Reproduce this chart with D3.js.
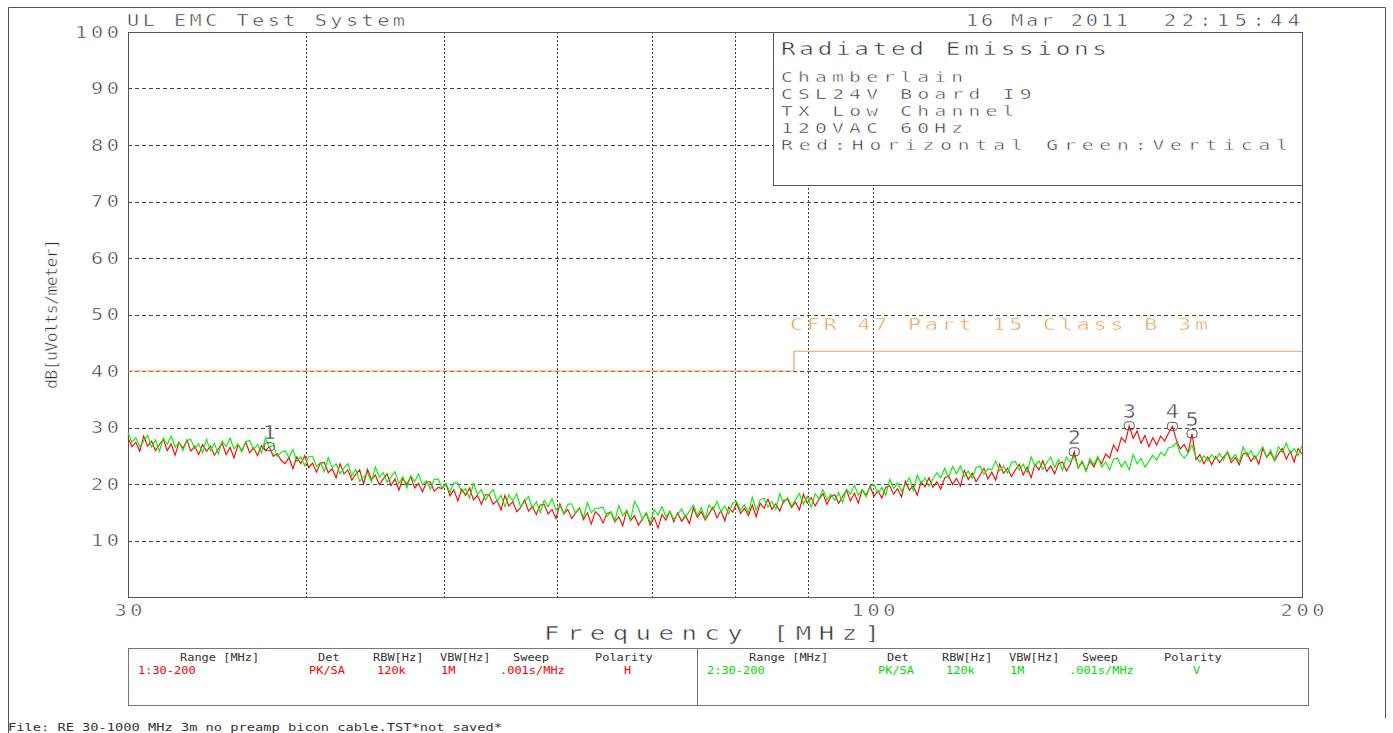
<!DOCTYPE html>
<html>
<head>
<meta charset="utf-8">
<script src="https://cdn.jsdelivr.net/npm/d3@7"></script>
<style>
  html, body { margin: 0; padding: 0; background: #fff; }
  svg { display: block; }
  text { font-family: "DejaVu Sans Mono", "Liberation Mono", monospace; }
  text.thin { stroke: #fff; stroke-width: 0.45px; }
</style>
</head>
<body>
<svg id="chart" width="1393" height="733"></svg>
<script>
// Sweep settings (MHz)
const sweepStart = 30;
const sweepStop = 200;

// Horizontal polarity peak trace, dBuV/m
const hLevels = [
  28.2, 26.6, 27.4, 25.8, 28.5, 26.7, 27.6, 25.9, 27.0, 27.9, 25.9, 27.1, 25.1, 27.4, 26.3, 27.8, 25.8, 26.7, 25.2, 27.0,
  25.8, 26.7, 25.1, 26.2, 27.2, 25.2, 26.5, 24.6, 26.9, 25.9, 27.4, 25.5, 26.4, 25.0, 26.8, 25.9, 26.6, 24.9, 25.4, 24.2,
  23.6, 24.7, 22.7, 24.8, 23.6, 25.0, 22.9, 23.7, 22.1, 23.7, 23.8, 22.0, 22.7, 21.1, 23.6, 21.8, 22.5, 20.7, 21.7, 22.5,
  20.0, 22.6, 20.8, 21.6, 19.9, 20.9, 21.8, 19.7, 20.9, 18.9, 21.0, 19.9, 21.3, 19.3, 20.1, 18.6, 20.3, 20.4, 18.7, 19.4,
  19.2, 20.0, 17.9, 19.0, 17.0, 19.1, 18.0, 19.3, 17.2, 18.0, 16.4, 18.1, 18.1, 16.4, 17.1, 15.4, 18.0, 16.1, 16.9, 15.1,
  15.8, 17.2, 15.2, 16.0, 14.6, 16.3, 16.4, 14.7, 15.5, 13.9, 16.5, 14.7, 15.5, 13.9, 14.9, 15.8, 13.7, 14.9, 12.9, 15.1,
  14.5, 13.1, 14.8, 15.0, 13.3, 14.2, 12.6, 15.3, 13.5, 14.4, 12.7, 13.8, 14.8, 12.7, 14.1, 12.2, 14.6, 13.6, 15.2, 13.3,
  14.9, 13.4, 14.4, 13.0, 15.8, 14.1, 15.1, 13.6, 14.8, 15.9, 14.0, 15.3, 13.5, 15.9, 15.0, 16.6, 14.8, 15.7, 14.4, 16.3,
  14.2, 16.6, 15.7, 17.3, 15.5, 16.5, 15.2, 17.1, 17.3, 15.8, 16.8, 15.4, 18.2, 16.6, 17.6, 16.1, 17.3, 18.3, 16.4, 17.8,
  18.1, 16.6, 17.8, 18.9, 17.0, 18.4, 16.6, 19.0, 18.0, 19.6, 17.8, 18.8, 17.5, 19.4, 19.7, 18.2, 19.2, 17.7, 20.5, 18.9,
  19.7, 18.0, 20.4, 19.5, 21.1, 19.4, 20.4, 19.1, 21.1, 21.4, 19.9, 21.0, 19.6, 22.4, 20.8, 21.9, 20.4, 21.6, 22.8, 20.9,
  22.1, 20.7, 23.5, 21.9, 22.8, 21.3, 22.5, 23.5, 21.6, 23.0, 21.1, 23.5, 22.5, 24.1, 22.2, 23.2, 21.8, 23.6, 23.9, 22.3,
  23.5, 25.7, 22.8, 23.9, 22.4, 24.1, 23.0, 24.6, 23.6, 25.3, 24.6, 26.9, 25.8, 28.2, 27.4, 30.3, 28.1, 29.4, 27.2, 28.6,
  26.6, 28.2, 26.9, 28.5, 27.6, 29.0, 30.2, 27.8, 26.2, 27.0, 25.6, 28.9, 24.3, 25.2, 23.6, 24.8, 23.4, 24.9, 23.8, 24.7,
  25.6, 23.8, 24.7, 23.4, 25.3, 25.5, 24.0, 25.0, 23.5, 26.3, 24.7, 25.6, 24.1, 25.3, 26.3, 24.4, 25.8, 23.9, 26.3, 25.3
];

// Vertical polarity peak trace, dBuV/m
const vLevels = [
  29.1, 27.4, 28.2, 26.6, 27.6, 28.6, 26.5, 27.8, 25.8, 28.1, 27.0, 28.5, 26.5, 27.4, 25.9, 27.7, 27.9, 26.2, 27.1, 25.5,
  27.9, 25.9, 27.2, 25.3, 27.6, 26.6, 28.1, 26.2, 27.1, 25.7, 27.5, 27.7, 26.1, 27.0, 25.5, 28.2, 26.5, 26.9, 24.9, 25.6,
  25.9, 24.7, 26.1, 24.0, 24.8, 23.2, 24.8, 24.9, 23.1, 23.8, 22.2, 24.7, 22.9, 23.6, 21.8, 22.8, 23.6, 21.4, 22.6, 20.5,
  21.2, 22.0, 20.4, 23.0, 21.2, 22.0, 20.3, 21.3, 22.2, 20.1, 21.3, 19.3, 21.5, 20.4, 21.8, 19.8, 20.6, 19.1, 20.8, 20.9,
  19.3, 20.1, 18.5, 20.2, 20.2, 18.5, 19.2, 17.5, 20.1, 18.2, 19.0, 17.2, 18.2, 19.0, 16.9, 18.0, 16.0, 18.1, 17.0, 18.3,
  15.9, 16.9, 17.8, 15.7, 16.9, 14.9, 17.1, 16.0, 17.4, 15.4, 16.2, 14.7, 16.4, 16.5, 14.8, 15.7, 14.1, 16.7, 14.9, 15.7,
  15.7, 15.9, 14.2, 15.1, 13.5, 16.2, 14.4, 15.3, 13.7, 16.9, 15.7, 13.7, 15.0, 13.1, 15.5, 14.5, 16.0, 14.2, 15.1, 13.8,
  14.6, 15.6, 14.1, 15.2, 16.3, 14.4, 15.8, 13.9, 16.3, 15.4, 16.9, 15.1, 16.1, 14.7, 16.6, 16.9, 15.4, 16.3, 14.9, 17.7,
  15.3, 17.2, 17.5, 15.9, 16.9, 15.5, 18.3, 16.6, 17.6, 16.1, 17.2, 18.3, 16.4, 17.8, 15.9, 18.3, 17.4, 19.0, 17.2, 18.2,
  17.1, 18.5, 16.7, 19.1, 18.2, 19.8, 18.0, 19.0, 17.7, 19.6, 19.9, 18.4, 19.4, 18.0, 20.8, 19.2, 20.2, 18.7, 19.9, 21.1,
  18.8, 21.6, 20.1, 21.1, 19.6, 20.9, 22.0, 21.1, 22.8, 21.1, 23.1, 21.8, 23.2, 21.3, 22.3, 21.0, 22.9, 23.2, 21.7, 22.7,
  22.5, 24.1, 22.3, 23.2, 21.9, 23.8, 24.0, 22.5, 23.5, 22.0, 24.8, 23.2, 24.1, 22.6, 23.8, 24.8, 22.9, 24.3, 22.4, 24.8,
  23.9, 24.9, 22.9, 24.1, 22.2, 24.5, 23.4, 24.9, 23.0, 23.9, 22.5, 24.4, 24.6, 23.0, 24.0, 22.5, 25.2, 23.6, 24.5, 23.0,
  24.0, 25.1, 24.2, 25.6, 25.0, 26.4, 26.6, 27.3, 25.4, 24.6, 25.5, 26.9, 24.8, 23.9, 25.0, 24.1, 25.2, 24.4, 25.4, 24.2,
  25.8, 24.3, 25.2, 23.8, 26.6, 24.9, 25.9, 24.4, 25.5, 26.6, 24.7, 26.0, 24.2, 26.6, 25.6, 27.2, 25.4, 26.3, 25.0, 26.8
];

// FCC Part 15 Class B limit at 3 m
const limitFreqs = [30, 88, 88, 200];
const limitLevels = [40, 40, 43.5, 43.5];

// Peak markers: sample index on the horizontal trace
const markerIndex = [36, 241, 255, 266, 271];
const markerNames = ["1", "2", "3", "4", "5"];

// Axis ticks and grid
const yTicks = [10, 20, 30, 40, 50, 60, 70, 80, 90, 100];
const yGrid = [10, 20, 30, 40, 50, 60, 70, 80, 90];
const xTicks = [30, 100, 200];
const xGrid = [40, 50, 60, 70, 80, 90, 100];

const infoLines = ["Chamberlain", "CSL24V Board I9", "TX Low Channel", "120VAC 60Hz", "Red:Horizontal  Green:Vertical"];
const tableHeads = ["Range [MHz]", "Det", "RBW[Hz]", "VBW[Hz]", "Sweep", "Polarity"];
const hSetup = ["1:30-200", "PK/SA", "120k", "1M", ".001s/MHz", "H"];
const vSetup = ["2:30-200", "PK/SA", "120k", "1M", ".001s/MHz", "V"];

const ink = "#333";
const wide = 1.35; // horizontal stretch of the plotter lettering
const svg = d3.select("#chart");

// log-spaced sweep frequencies shared by both traces
const sweepFreqs = hLevels.map((_, i) => sweepStart * Math.pow(sweepStop / sweepStart, i / (hLevels.length - 1)));

const plot = { left: 128, right: 1302, top: 32, bottom: 597 };
const x = d3.scaleLog().domain([sweepStart, sweepStop]).range([plot.left, plot.right]);
const y = d3.scaleLinear().domain([0, 100]).range([plot.bottom, plot.top]);

// plotter-style label: wide monospace glyphs spread to a fixed run length
function txt(g, s, px, py, size, width, opts = {}) {
  const sx = opts.sx || wide;
  const rot = opts.rotate ? ` rotate(${opts.rotate})` : "";
  const t = g.append("text")
    .attr("transform", `translate(${px},${py})${rot} scale(${sx},1)`)
    .attr("font-size", size)
    .attr("fill", opts.fill || ink)
    .attr("text-anchor", opts.anchor || "start")
    .attr("class", opts.cls || "thin")
    .text(s);
  if (opts.family) t.attr("font-family", opts.family);
  if (width) t.attr("textLength", width / sx).attr("lengthAdjust", opts.adjust || "spacing");
  return t;
}

// page frame
svg.append("path")
  .attr("d", "M8.5,733 V7.5 H1385.5 V718")
  .attr("fill", "none").attr("stroke", "#555").attr("stroke-width", 1);

// grid
svg.append("g").selectAll("line").data(yGrid).join("line")
  .attr("x1", plot.left).attr("x2", plot.right)
  .attr("y1", d => Math.round(y(d)) + 0.5).attr("y2", d => Math.round(y(d)) + 0.5)
  .attr("stroke", "#444").attr("stroke-dasharray", "4,3");
svg.append("g").selectAll("line").data(xGrid).join("line")
  .attr("x1", d => Math.round(x(d)) + 0.5).attr("x2", d => Math.round(x(d)) + 0.5)
  .attr("y1", plot.top).attr("y2", plot.bottom)
  .attr("stroke", "#444").attr("stroke-dasharray", "2,2");

// plot border
svg.append("rect")
  .attr("x", plot.left + 0.5).attr("y", plot.top + 0.5)
  .attr("width", plot.right - plot.left).attr("height", plot.bottom - plot.top)
  .attr("fill", "none").attr("stroke", "#555");

function styleTicks(sel, padX) {
  sel.selectAll("text")
    .attr("class", "thin")
    .attr("font-family", "DejaVu Sans Mono").attr("font-size", 15).attr("fill", ink)
    .attr("transform", `scale(${wide},1)`)
    .each(function (d) {
      const t = d3.select(this);
      if (padX !== null) t.attr("x", padX / wide);
      t.attr("textLength", (String(d).length * 16 - 4) / wide).attr("lengthAdjust", "spacing");
    });
}

// y axis labels
const yAxis = svg.append("g")
  .attr("transform", `translate(${plot.left},0)`)
  .call(d3.axisLeft(y).tickValues(yTicks).tickSize(0).tickPadding(9).tickFormat(d3.format("d")));
yAxis.select(".domain").remove();
styleTicks(yAxis, -9);
yAxis.selectAll("text").attr("dy", "0.36em");

// x axis labels
const xAxis = svg.append("g")
  .attr("transform", `translate(0,${plot.bottom})`)
  .call(d3.axisBottom(x).tickValues(xTicks).tickSize(0).tickPadding(8).tickFormat(d3.format("d")));
xAxis.select(".domain").remove();
styleTicks(xAxis, null);

// titles
txt(svg, "UL EMC Test System", 127, 26, 15, 278);
txt(svg, "16 Mar 2011", 966, 26, 15, 162);
txt(svg, "22:15:44", 1164, 26, 15, 136);
txt(svg, "dB[uVolts/meter]", 57, 314, 15, 150, { anchor: "middle", rotate: -90, sx: 1.1 });
txt(svg, "Frequency [MHz]", 712, 640, 19, 336, { anchor: "middle" });

// limit line
const limitLine = d3.line().x((d, i) => x(limitFreqs[i])).y(d => y(d));
svg.append("path").datum(limitLevels)
  .attr("d", limitLine).attr("fill", "none")
  .attr("stroke", "#f5a057").attr("stroke-width", 1.2);
txt(svg, "CFR 47 Part 15  Class B 3m", 790, 330, 16, 418, { fill: "#f39a4c" });

// traces
const trace = d3.line().x((d, i) => x(sweepFreqs[i])).y(d => y(d));
svg.append("path").datum(hLevels)
  .attr("d", trace).attr("fill", "none").attr("stroke", "#ff0000").attr("stroke-width", 1.1);
svg.append("path").datum(vLevels)
  .attr("d", trace).attr("fill", "none").attr("stroke", "#00f000").attr("stroke-width", 1.1);

// markers
const mk = svg.append("g");
markerIndex.forEach((idx, k) => {
  const mx = x(sweepFreqs[idx]);
  const my = y(hLevels[idx]);
  mk.append("rect")
    .attr("x", mx - 5).attr("y", my - 4).attr("width", 10).attr("height", 8)
    .attr("rx", 3).attr("fill", "none").attr("stroke", "#555").attr("stroke-width", 1);
  txt(mk, markerNames[k], mx, my - 8, 19, null, { anchor: "middle", fill: "#444", sx: 1.15 });
});

// info box
const info = svg.append("g");
info.append("rect")
  .attr("x", 773.5).attr("y", plot.top + 0.5).attr("width", plot.right - 773).attr("height", 153)
  .attr("fill", "#fff").attr("stroke", "#555");
txt(info, "Radiated Emissions", 781, 55, 18, 326);
infoLines.forEach((s, i) => txt(info, s, 781, 82 + i * 17, 14.5, s.length * 17.1 - 6));

// sweep setup table
const tbl = svg.append("g");
tbl.append("rect").attr("x", 128.5).attr("y", 648.5).attr("width", 1180).attr("height", 57)
  .attr("fill", "none").attr("stroke", "#777");
tbl.append("line").attr("x1", 697.5).attr("x2", 697.5).attr("y1", 648).attr("y2", 706).attr("stroke", "#777");
const headX = [180, 318, 373, 440, 513, 595];
const valX = [138, 309, 377, 441, 500, 624];
const small = { family: "DejaVu Sans", cls: "plain", adjust: "spacingAndGlyphs", sx: 1 };
[0, 569].forEach((off, side) => {
  tableHeads.forEach((h, i) => txt(tbl, h, headX[i] + off, 661, 11, h.length * 7.2, small));
  const vals = side === 0 ? hSetup : vSetup;
  const col = side === 0 ? "#ff0000" : "#00e000";
  vals.forEach((v, i) => txt(tbl, v, valX[i] + off, 674, 11, v.length * 7.2, { ...small, fill: col }));
});

txt(svg, "File: RE 30-1000 MHz 3m no preamp bicon cable.TST*not saved*", 8, 731, 10, 494, small);
</script>
</body>
</html>
